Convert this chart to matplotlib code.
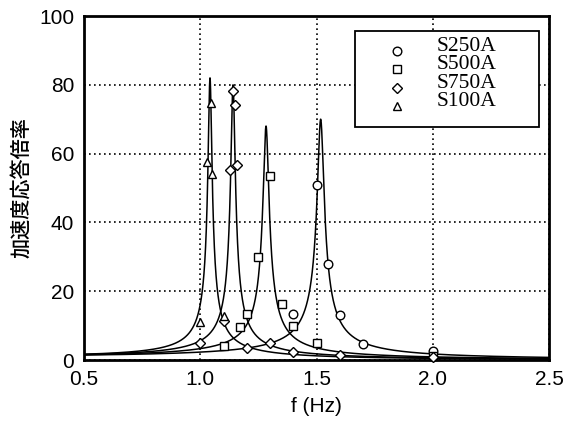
import numpy as np
import matplotlib
matplotlib.use('Agg')
import matplotlib.pyplot as plt
from matplotlib.patches import Rectangle

plt.rcParams['font.family'] = ['Liberation Sans', 'Noto Sans CJK JP', 'DejaVu Sans']

# 測定値 (f [Hz], 加速度応答倍率)
s250_f = [1.40, 1.50, 1.55, 1.60, 1.70, 2.00]
s250_a = [13.5, 50.8, 28.0, 13.0, 4.6, 2.7]

s500_f = [1.10, 1.17, 1.20, 1.25, 1.30, 1.35, 1.40, 1.50, 2.00]
s500_a = [4.0, 9.7, 13.5, 30.0, 53.5, 16.3, 10.0, 4.8, 1.3]

s750_f = [1.00, 1.10, 1.13, 1.14, 1.15, 1.16, 1.20, 1.30, 1.40, 1.60, 2.00]
s750_a = [5.0, 11.3, 55.2, 78.2, 74.1, 56.7, 3.5, 5.0, 2.4, 1.5, 0.8]

s100_f = [1.00, 1.03, 1.045, 1.05, 1.10]
s100_a = [11.0, 57.5, 74.6, 54.0, 12.7]

# 理論曲線のパラメータ (固有振動数, ピーク倍率)
fn_list = [1.042, 1.141, 1.283, 1.518]
peak_list = [82.0, 80.0, 68.0, 70.0]
scale = 1.3

labels = ['S250A', 'S500A', 'S750A', 'S100A']
markers = ['o', 's', 'D', '^']
msizes = [6.2, 6.0, 4.6, 6.2]

fig = plt.figure(figsize=(5.66, 4.36), dpi=100)
ax = fig.add_axes([0.1484, 0.1743, 0.8216, 0.789])

f = np.linspace(0.5, 2.5, 40001)
for fn, pk in zip(fn_list, peak_list):
    h = scale / (2 * pk)
    r = f / fn
    amp = scale / np.sqrt((1 - r**2)**2 + (2 * h * r)**2)
    ax.plot(f, amp, color='black', lw=1.1, zorder=2)

data = [(s250_f, s250_a), (s500_f, s500_a), (s750_f, s750_a), (s100_f, s100_a)]
for (xs, ys), m, ms in zip(data, markers, msizes):
    ax.plot(xs, ys, linestyle='none', marker=m, ms=ms, mfc='white',
            mec='black', mew=1.0, zorder=3, clip_on=False)

ax.set_xlim(0.5, 2.5)
ax.set_ylim(0, 100)
ax.set_xticks([0.5, 1.0, 1.5, 2.0, 2.5])
ax.set_xticklabels(['0.5', '1.0', '1.5', '2.0', '2.5'])
ax.set_yticks([0, 20, 40, 60, 80, 100])
ax.tick_params(direction='in', length=0, labelsize=15, pad=7)
ax.grid(True, color='black', linestyle=(0, (1, 2)), lw=1.2)
for s in ax.spines.values():
    s.set_linewidth(2.0)

ax.set_xlabel('f (Hz)', fontsize=15, labelpad=6)
ax.set_ylabel('加速度応答倍率', fontsize=14.5, family=['Noto Sans CJK JP'],
              weight='medium', labelpad=6)

# 凡例
box = Rectangle((0.583, 0.677), 0.395, 0.279, transform=ax.transAxes,
                facecolor='white', edgecolor='black', lw=1.3, zorder=5)
ax.add_patch(box)
text_y = [0.911, 0.858, 0.804, 0.751]
for lab, m, ms, ty in zip(labels, markers, msizes, text_y):
    ax.plot([0.673], [ty - 0.013], transform=ax.transAxes, marker=m, ms=ms,
            mfc='white', mec='black', mew=1.0, zorder=6, clip_on=False)
    ax.text(0.759, ty, lab, transform=ax.transAxes, fontsize=15.5,
            family=['Liberation Serif'], va='center', ha='left', zorder=6)

fig.savefig('out.png', dpi=100)
